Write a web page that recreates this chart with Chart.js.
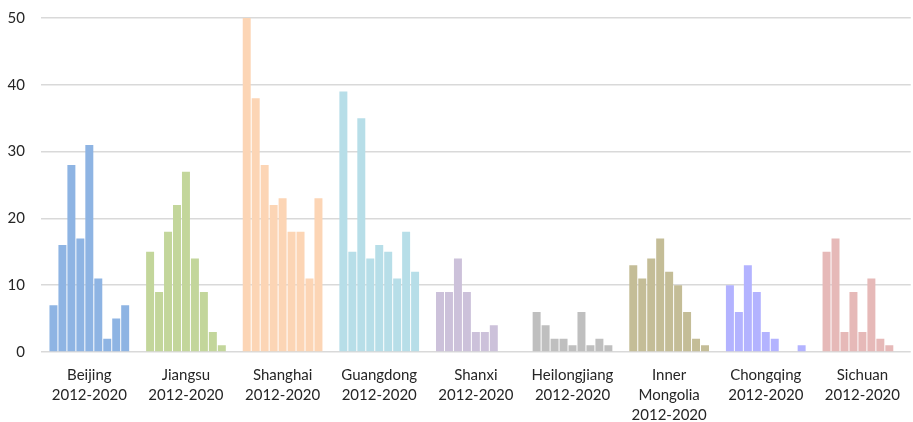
<!DOCTYPE html>
<html>
<head>
<meta charset="utf-8">
<script src="https://cdn.jsdelivr.net/npm/chart.js@4"></script>
<style>
  html, body { margin: 0; padding: 0; background: #ffffff; }
  #wrap { width: 913px; height: 422px; position: relative; }
</style>
</head>
<body>
<div id="wrap"><canvas id="chart"></canvas></div>
<script>
// Provinces / municipalities, each shown as a group of yearly bars (2012-2020)
const regionLabels = [
  ['Beijing', '2012-2020'],
  ['Jiangsu', '2012-2020'],
  ['Shanghai', '2012-2020'],
  ['Guangdong', '2012-2020'],
  ['Shanxi', '2012-2020'],
  ['Heilongjiang', '2012-2020'],
  ['Inner', 'Mongolia', '2012-2020'],
  ['Chongqing', '2012-2020'],
  ['Sichuan', '2012-2020']
];
const years = ['2012', '2013', '2014', '2015', '2016', '2017', '2018', '2019', '2020'];

// Yearly values per region, 2012 → 2020
const beijing      = [7, 16, 28, 17, 31, 11, 2, 5, 7];
const jiangsu      = [15, 9, 18, 22, 27, 14, 9, 3, 1];
const shanghai     = [50, 38, 28, 22, 23, 18, 18, 11, 23];
const guangdong    = [39, 15, 35, 14, 16, 15, 11, 18, 12];
const shanxi       = [9, 9, 14, 9, 3, 3, 4, 0, 0];
const heilongjiang = [6, 4, 2, 2, 1, 6, 1, 2, 1];
const innerMongolia = [13, 11, 14, 17, 12, 10, 6, 2, 1];
const chongqing    = [10, 6, 13, 9, 3, 2, 0, 0, 1];
const sichuan      = [15, 17, 3, 9, 3, 11, 2, 1, 0];

const yTicks = [0, 10, 20, 30, 40, 50];

// One colour per region group
const regionColors = [
  '#8EB4E3', '#C3D69B', '#FCD5B5', '#B7DEE8', '#CCC1DA',
  '#BFBFBF', '#C4BD97', '#B3B3FF', '#E6B9B8'
];

const regionSeries = [beijing, jiangsu, shanghai, guangdong, shanxi,
                      heilongjiang, innerMongolia, chongqing, sichuan];

// Each year becomes a dataset so that bars sit side by side within a region
const datasets = years.map((yr, i) => ({
  label: yr,
  data: regionSeries.map(s => s[i]),
  backgroundColor: regionColors,
  borderWidth: 0,
  categoryPercentage: 0.835,
  barPercentage: 0.89
}));

const FONT = 'Lato, "Open Sans", sans-serif';

new Chart(document.getElementById('chart'), {
  type: 'bar',
  data: { labels: regionLabels, datasets },
  options: {
    responsive: true,
    maintainAspectRatio: false,
    animation: false,
    layout: { padding: { top: 18, right: 0, left: 0, bottom: 0 } },
    plugins: {
      legend: { display: false },
      tooltip: { enabled: false }
    },
    scales: {
      x: {
        grid: { display: false, drawTicks: false },
        border: { display: false },
        afterFit: axis => { axis.height = 70; },
        ticks: {
          color: '#262626',
          font: { family: FONT, size: 15, lineHeight: 1.34 },
          padding: 13,
          maxRotation: 0,
          autoSkip: false
        }
      },
      y: {
        min: 0,
        max: 50,
        afterBuildTicks: axis => { axis.ticks = yTicks.map(v => ({ value: v })); },
        afterFit: axis => {
          axis.width = 41;
          axis.paddingTop = 0;
          axis.paddingBottom = 0;
        },
        grid: { color: '#D9D9D9', lineWidth: 1.5, drawTicks: false },
        border: { display: false },
        ticks: {
          color: '#262626',
          font: { family: FONT, size: 15 },
          padding: 16
        }
      }
    }
  }
});
</script>
</body>
</html>
